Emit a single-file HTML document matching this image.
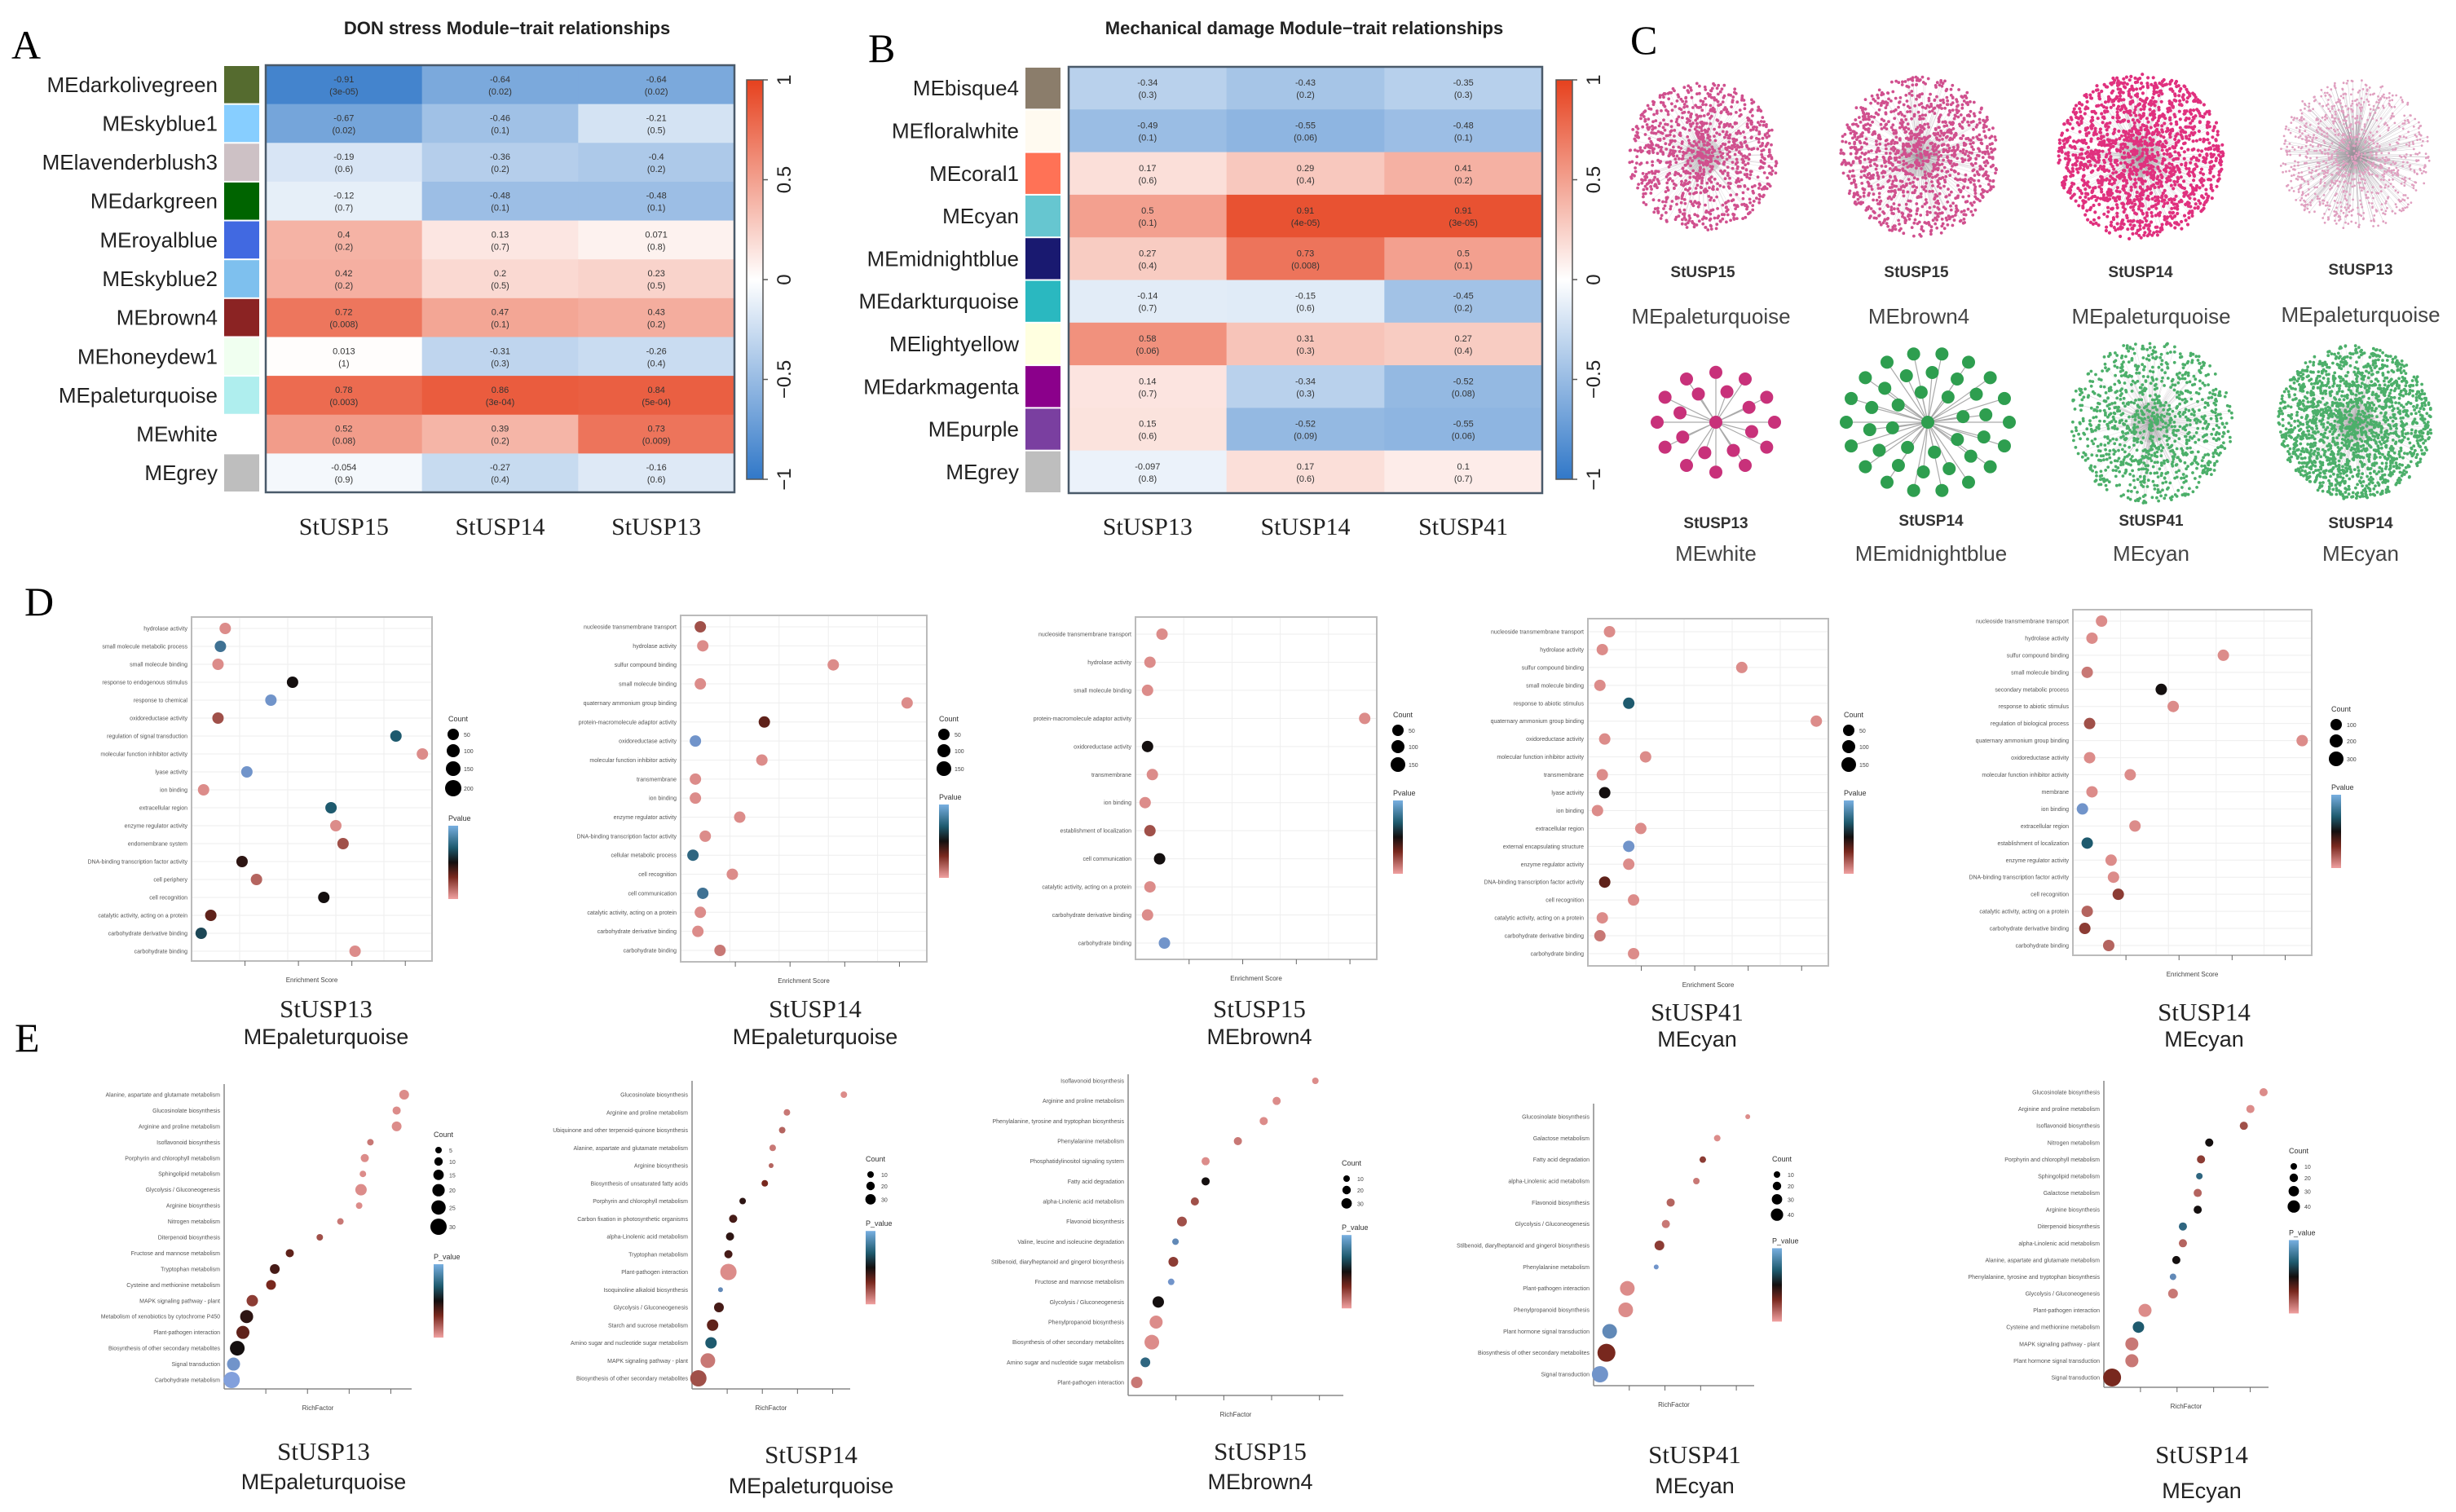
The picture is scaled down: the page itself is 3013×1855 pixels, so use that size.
<!DOCTYPE html>
<html><head><meta charset="utf-8"><style>
html,body{margin:0;padding:0;background:#fff;}
svg{display:block;font-family:"Liberation Sans",sans-serif;}
.serif{font-family:"Liberation Serif",serif;}
</style></head><body>
<svg id="fig" xmlns="http://www.w3.org/2000/svg" width="3013" height="1855" viewBox="0 0 3013 1855">
<defs>
<linearGradient id="hmgrad" x1="0" y1="1" x2="0" y2="0">
<stop offset="0" stop-color="rgb(49,120,200)"/><stop offset="0.5" stop-color="#ffffff"/><stop offset="1" stop-color="rgb(230,65,30)"/>
</linearGradient>
<linearGradient id="pgrad" x1="0" y1="0" x2="0" y2="1">
<stop offset="0" stop-color="rgb(120,175,225)"/><stop offset="0.3" stop-color="rgb(30,90,110)"/><stop offset="0.5" stop-color="rgb(20,15,15)"/><stop offset="0.7" stop-color="rgb(120,40,30)"/><stop offset="1" stop-color="rgb(240,160,160)"/>
</linearGradient>
</defs>
<text class="serif" x="14" y="72" font-size="50">A</text>
<text class="serif" x="1065" y="76" font-size="50">B</text>
<text class="serif" x="2000" y="66" font-size="50">C</text>
<text class="serif" x="30" y="755" font-size="50">D</text>
<text class="serif" x="18" y="1290" font-size="50">E</text>
<g id="root"></g>
</svg>
<script>
// ---------- Panel A data ----------
const aRows=["MEdarkolivegreen","MEskyblue1","MElavenderblush3","MEdarkgreen","MEroyalblue","MEskyblue2","MEbrown4","MEhoneydew1","MEpaleturquoise","MEwhite","MEgrey"];
const aStrip=["#556B2F","#87CEFF","#CDC1C5","#006400","#4169E1","#7EC0EE","#8B2323","#F0FFF0","#AFEEEE","#FFFFFF","#BEBEBE"];
const aCols=["StUSP15","StUSP14","StUSP13"];
const aVals=[[-0.91,-0.64,-0.64],[-0.67,-0.46,-0.21],[-0.19,-0.36,-0.4],[-0.12,-0.48,-0.48],[0.4,0.13,0.071],[0.42,0.2,0.23],[0.72,0.47,0.43],[0.013,-0.31,-0.26],[0.78,0.86,0.84],[0.52,0.39,0.73],[-0.054,-0.27,-0.16]];
const aP=[["3e-05","0.02","0.02"],["0.02","0.1","0.5"],["0.6","0.2","0.2"],["0.7","0.1","0.1"],["0.2","0.7","0.8"],["0.2","0.5","0.5"],["0.008","0.1","0.2"],["1","0.3","0.4"],["0.003","3e-04","5e-04"],["0.08","0.2","0.009"],["0.9","0.4","0.6"]];
// ---------- Panel B data ----------
const bRows=["MEbisque4","MEfloralwhite","MEcoral1","MEcyan","MEmidnightblue","MEdarkturquoise","MElightyellow","MEdarkmagenta","MEpurple","MEgrey"];
const bStrip=["#8B7D6B","#FFFAF0","#FF7256","#66C6D0","#191970","#2AB8C0","#FFFFE0","#8B008B","#7A3FA0","#BEBEBE"];
const bCols=["StUSP13","StUSP14","StUSP41"];
const bVals=[[-0.34,-0.43,-0.35],[-0.49,-0.55,-0.48],[0.17,0.29,0.41],[0.5,0.91,0.91],[0.27,0.73,0.5],[-0.14,-0.15,-0.45],[0.58,0.31,0.27],[0.14,-0.34,-0.52],[0.15,-0.52,-0.55],[-0.097,0.17,0.1]];
const bP=[["0.3","0.2","0.3"],["0.1","0.06","0.1"],["0.6","0.4","0.2"],["0.1","4e-05","3e-05"],["0.4","0.008","0.1"],["0.7","0.6","0.2"],["0.06","0.3","0.4"],["0.7","0.3","0.08"],["0.6","0.09","0.06"],["0.8","0.6","0.7"]];
const cbTicks=[1,0.5,0,-0.5,-1];
const cbTickLabels=["1","0.5","0","\u22120.5","\u22121"];

// ---------- Panel D data ----------
const d1Terms=["hydrolase activity","small molecule metabolic process","small molecule binding","response to endogenous stimulus","response to chemical","oxidoreductase activity","regulation of signal transduction","molecular function inhibitor activity","lyase activity","ion binding","extracellular region","enzyme regulator activity","endomembrane system","DNA-binding transcription factor activity","cell periphery","cell recognition","catalytic activity, acting on a protein","carbohydrate derivative binding","carbohydrate binding"];
const d1X=[0.14,0.12,0.11,0.42,0.33,0.11,0.85,0.96,0.23,0.05,0.58,0.60,0.63,0.21,0.27,0.55,0.08,0.04,0.68];
const d1P=[0.05,0.8,0.05,0.5,0.95,0.2,0.7,0.05,0.95,0.05,0.7,0.05,0.2,0.45,0.15,0.5,0.35,0.65,0.05];
const d2Terms=["nucleoside transmembrane transport","hydrolase activity","sulfur compound binding","small molecule binding","quaternary ammonium group binding","protein-macromolecule adaptor activity","oxidoreductase activity","molecular function inhibitor activity","transmembrane","ion binding","enzyme regulator activity","DNA-binding transcription factor activity","cellular metabolic process","cell recognition","cell communication","catalytic activity, acting on a protein","carbohydrate derivative binding","carbohydrate binding"];
const d2X=[0.08,0.09,0.62,0.08,0.92,0.34,0.06,0.33,0.06,0.06,0.24,0.10,0.05,0.21,0.09,0.08,0.07,0.16];
const d2P=[0.2,0.05,0.05,0.05,0.05,0.35,0.95,0.05,0.05,0.05,0.05,0.05,0.75,0.05,0.8,0.05,0.05,0.1];
const d3Terms=["nucleoside transmembrane transport","hydrolase activity","small molecule binding","protein-macromolecule adaptor activity","oxidoreductase activity","transmembrane","ion binding","establishment of localization","cell communication","catalytic activity, acting on a protein","carbohydrate derivative binding","carbohydrate binding"];
const d3X=[0.11,0.06,0.05,0.95,0.05,0.07,0.04,0.06,0.10,0.06,0.05,0.12];
const d3P=[0.05,0.05,0.05,0.05,0.5,0.05,0.05,0.2,0.5,0.05,0.05,0.95];
const d4Terms=["nucleoside transmembrane transport","hydrolase activity","sulfur compound binding","small molecule binding","response to abiotic stimulus","quaternary ammonium group binding","oxidoreductase activity","molecular function inhibitor activity","transmembrane","lyase activity","ion binding","extracellular region","external encapsulating structure","enzyme regulator activity","DNA-binding transcription factor activity","cell recognition","catalytic activity, acting on a protein","carbohydrate derivative binding","carbohydrate binding"];
const d4X=[0.09,0.06,0.64,0.05,0.17,0.95,0.07,0.24,0.06,0.07,0.04,0.22,0.17,0.17,0.07,0.19,0.06,0.05,0.19];
const d4P=[0.05,0.05,0.05,0.05,0.7,0.05,0.05,0.05,0.05,0.5,0.05,0.05,0.95,0.05,0.35,0.05,0.05,0.1,0.05];
const d5Terms=["nucleoside transmembrane transport","hydrolase activity","sulfur compound binding","small molecule binding","secondary metabolic process","response to abiotic stimulus","regulation of biological process","quaternary ammonium group binding","oxidoreductase activity","molecular function inhibitor activity","membrane","ion binding","extracellular region","establishment of localization","enzyme regulator activity","DNA-binding transcription factor activity","cell recognition","catalytic activity, acting on a protein","carbohydrate derivative binding","carbohydrate binding"];
const d5X=[0.12,0.08,0.63,0.06,0.37,0.42,0.07,0.96,0.07,0.24,0.08,0.04,0.26,0.06,0.16,0.17,0.19,0.06,0.05,0.15];
const d5P=[0.05,0.05,0.05,0.1,0.5,0.05,0.2,0.05,0.05,0.05,0.05,0.95,0.05,0.7,0.05,0.05,0.25,0.15,0.25,0.15];

// ---------- Panel E data ----------
const e1Terms=["Alanine, aspartate and glutamate metabolism","Glucosinolate biosynthesis","Arginine and proline metabolism","Isoflavonoid biosynthesis","Porphyrin and chlorophyll metabolism","Sphingolipid metabolism","Glycolysis / Gluconeogenesis","Arginine biosynthesis","Nitrogen metabolism","Diterpenoid biosynthesis","Fructose and mannose metabolism","Tryptophan metabolism","Cysteine and methionine metabolism","MAPK signaling pathway - plant","Metabolism of xenobiotics by cytochrome P450","Plant-pathogen interaction","Biosynthesis of other secondary metabolites","Signal transduction","Carbohydrate metabolism"];
const e1X=[0.96,0.92,0.92,0.78,0.75,0.74,0.73,0.72,0.62,0.51,0.35,0.27,0.25,0.15,0.12,0.10,0.07,0.05,0.04];
const e1P=[0.05,0.05,0.05,0.1,0.05,0.05,0.05,0.05,0.1,0.2,0.35,0.4,0.3,0.25,0.45,0.35,0.5,0.95,1];
const e1R=[6,5,6,4,5,4,7,4,4,4,5,6,6,7,8,8,9,8,10];
const e2Terms=["Glucosinolate biosynthesis","Arginine and proline metabolism","Ubiquinone and other terpenoid-quinone biosynthesis","Alanine, aspartate and glutamate metabolism","Arginine biosynthesis","Biosynthesis of unsaturated fatty acids","Porphyrin and chlorophyll metabolism","Carbon fixation in photosynthetic organisms","alpha-Linolenic acid metabolism","Tryptophan metabolism","Plant-pathogen interaction","Isoquinoline alkaloid biosynthesis","Glycolysis / Gluconeogenesis","Starch and sucrose metabolism","Amino sugar and nucleotide sugar metabolism","MAPK signaling pathway - plant","Biosynthesis of other secondary metabolites"];
const e2X=[0.96,0.60,0.57,0.51,0.50,0.46,0.32,0.26,0.24,0.23,0.23,0.18,0.17,0.13,0.12,0.10,0.04];
const e2P=[0.05,0.1,0.15,0.1,0.15,0.3,0.45,0.4,0.45,0.4,0.05,0.9,0.4,0.35,0.7,0.1,0.2];
const e2R=[4,4,4,4,3,4,4,5,5,5,10,3,6,7,7,9,10];
const e3Terms=["Isoflavonoid biosynthesis","Arginine and proline metabolism","Phenylalanine, tyrosine and tryptophan biosynthesis","Phenylalanine metabolism","Phosphatidylinositol signaling system","Fatty acid degradation","alpha-Linolenic acid metabolism","Flavonoid biosynthesis","Valine, leucine and isoleucine degradation","Stilbenoid, diarylheptanoid and gingerol biosynthesis","Fructose and mannose metabolism","Glycolysis / Gluconeogenesis","Phenylpropanoid biosynthesis","Biosynthesis of other secondary metabolites","Amino sugar and nucleotide sugar metabolism","Plant-pathogen interaction"];
const e3X=[0.87,0.69,0.63,0.51,0.36,0.36,0.31,0.25,0.22,0.21,0.20,0.14,0.13,0.11,0.08,0.04];
const e3P=[0.05,0.05,0.05,0.1,0.05,0.5,0.2,0.2,0.9,0.25,0.95,0.5,0.05,0.05,0.75,0.1];
const e3R=[4,5,5,5,5,5,5,6,4,6,4,7,8,9,6,7];
const e4Terms=["Glucosinolate biosynthesis","Galactose metabolism","Fatty acid degradation","alpha-Linolenic acid metabolism","Flavonoid biosynthesis","Glycolysis / Gluconeogenesis","Stilbenoid, diarylheptanoid and gingerol biosynthesis","Phenylalanine metabolism","Plant-pathogen interaction","Phenylpropanoid biosynthesis","Plant hormone signal transduction","Biosynthesis of other secondary metabolites","Signal transduction"];
const e4X=[0.96,0.77,0.68,0.64,0.48,0.45,0.41,0.39,0.21,0.20,0.10,0.08,0.04];
const e4P=[0.05,0.05,0.25,0.1,0.15,0.1,0.25,0.95,0.05,0.05,0.9,0.3,0.95];
const e4R=[3,4,4,4,5,5,6,3,9,9,9,11,10];
const e5Terms=["Glucosinolate biosynthesis","Arginine and proline metabolism","Isoflavonoid biosynthesis","Nitrogen metabolism","Porphyrin and chlorophyll metabolism","Sphingolipid metabolism","Galactose metabolism","Arginine biosynthesis","Diterpenoid biosynthesis","alpha-Linolenic acid metabolism","Alanine, aspartate and glutamate metabolism","Phenylalanine, tyrosine and tryptophan biosynthesis","Glycolysis / Gluconeogenesis","Plant-pathogen interaction","Cysteine and methionine metabolism","MAPK signaling pathway - plant","Plant hormone signal transduction","Signal transduction"];
const e5X=[0.97,0.89,0.85,0.64,0.59,0.58,0.57,0.57,0.48,0.48,0.44,0.42,0.42,0.25,0.21,0.17,0.17,0.05];
const e5P=[0.05,0.05,0.2,0.5,0.25,0.75,0.15,0.5,0.75,0.15,0.5,0.9,0.1,0.05,0.7,0.1,0.1,0.3];
const e5R=[5,5,5,5,5,4,5,5,5,5,5,4,6,8,7,8,8,11];

const NS="http://www.w3.org/2000/svg";
const root=document.getElementById('root');
function mk(tag,attrs,parent,txt){const e=document.createElementNS(NS,tag);for(const k in attrs)e.setAttribute(k,attrs[k]);if(txt!==undefined)e.textContent=txt;(parent||root).appendChild(e);return e;}
function lerp(a,b,t){return a+(b-a)*t;}
function hmColor(v){const w=[255,255,255];const c=v<0?[49,120,200]:[230,65,30];const t=Math.min(1,Math.abs(v));return `rgb(${Math.round(lerp(w[0],c[0],t))},${Math.round(lerp(w[1],c[1],t))},${Math.round(lerp(w[2],c[2],t))})`;}
function pColor(p){const st=[[0,[240,160,160]],[0.3,[120,40,30]],[0.5,[20,15,15]],[0.7,[30,90,110]],[1,[130,160,220]]];for(let i=1;i<st.length;i++){if(p<=st[i][0]){const t=(p-st[i-1][0])/(st[i][0]-st[i-1][0]);const a=st[i-1][1],b=st[i][1];return `rgb(${Math.round(lerp(a[0],b[0],t))},${Math.round(lerp(a[1],b[1],t))},${Math.round(lerp(a[2],b[2],t))})`;}}return 'rgb(130,160,220)';}

function heatmap(cfg){
  const g=mk('g',{});
  
  
  const t=mk('text',{x:cfg.titleX,y:cfg.titleY,'font-size':22,'font-weight':'bold','text-anchor':'middle',fill:'#222'},g,cfg.title);
  
  
  const nr=cfg.rows.length,nc=cfg.cols.length;
  const ch=(cfg.y1-cfg.y0)/nr,cw=(cfg.x1-cfg.x0)/nc;
  const yS=i=>cfg.y0+i*ch, xS=j=>cfg.x0+j*cw;
  cfg.rows.forEach((r,i)=>{
    const s=mk('rect',{x:cfg.sx,y:yS(i)+1,width:cfg.sw,height:ch-2,fill:cfg.strip[i]},g);
    
    
    const l=mk('text',{x:cfg.sx-8,y:yS(i)+ch/2+9,'font-size':26,'text-anchor':'end',fill:'#222'},g,r);
    
    
    cfg.cols.forEach((c,j)=>{
      const v=cfg.vals[i][j];
      const cell=mk('rect',{x:xS(j),y:yS(i),width:cw+0.5,height:ch+0.5,fill:hmColor(v)},g);
      
      
      const tv=mk('text',{x:xS(j)+cw/2,y:yS(i)+ch/2-3,'font-size':11,'text-anchor':'middle',fill:'#333'},g,String(v));
      
      
      const tp=mk('text',{x:xS(j)+cw/2,y:yS(i)+ch/2+12,'font-size':11,'text-anchor':'middle',fill:'#333'},g,'('+cfg.p[i][j]+')');
      
      
    });
  });
  const bd=mk('rect',{x:cfg.x0,y:cfg.y0,width:cfg.x1-cfg.x0,height:cfg.y1-cfg.y0,fill:'none',stroke:'#4a5a6a','stroke-width':2.5},g);
  
  
  cfg.cols.forEach((c,j)=>{
    const l=mk('text',{x:xS(j)+cw/2,y:cfg.colY,'font-size':30,'text-anchor':'middle',fill:'#222',class:'serif'},g,c);
    
    
  });
  const cb=mk('rect',{x:cfg.cbx,y:98,width:cfg.cbw,height:490,fill:'url(#hmgrad)',stroke:'#555','stroke-width':1.5},g);
  
  
  const cy=v=>98+(1-v)/2*490;
  cbTicks.forEach((v,k)=>{
    mk('line',{x1:cfg.cbx+cfg.cbw,x2:cfg.cbx+cfg.cbw+6,y1:cy(v),y2:cy(v),stroke:'#555','stroke-width':1.5},g);
    const tl=mk('text',{x:cfg.cbx+cfg.cbw+34,y:cy(v),'font-size':24,'text-anchor':'middle',fill:'#222',transform:`rotate(-90 ${cfg.cbx+cfg.cbw+34} ${cy(v)})`},g,cbTickLabels[k]);
    
    
  });
}
heatmap({name:'heatmap-don-stress',title:'DON stress Module\u2212trait relationships',titleX:622,titleY:42,rows:aRows,strip:aStrip,cols:aCols,vals:aVals,p:aP,x0:326,x1:901,y0:80,y1:604,sx:275,sw:43,colY:656,cbx:916,cbw:20});
heatmap({name:'heatmap-mechanical-damage',title:'Mechanical damage Module\u2212trait relationships',titleX:1600,titleY:42,rows:bRows,strip:bStrip,cols:bCols,vals:bVals,p:bP,x0:1311,x1:1892,y0:82,y1:605,sx:1258,sw:43,colY:656,cbx:1909,cbw:20});

// ---------- Panel C networks (decorative) ----------
let seed=12345;function rnd(){seed|=0;seed=seed+0x6D2B79F5|0;let t=Math.imul(seed^seed>>>15,1|seed);t=t+Math.imul(t^t>>>7,61|t)^t;return((t^t>>>14)>>>0)/4294967296;}
function cloud(cx,cy,R,n,col,dotR,lineOp,lineEvery,name){
  const g=mk('g',{});
  
  
  let d='';const pts=[];
  for(let i=0;i<n;i++){const a=rnd()*Math.PI*2;const r=R*Math.pow(rnd(),0.6);pts.push([cx+r*Math.cos(a),cy+r*Math.sin(a)]);}
  pts.forEach((p,i)=>{if(i%lineEvery==0)d+=`M${cx} ${cy}L${p[0].toFixed(1)} ${p[1].toFixed(1)}`;});
  mk('path',{d:d,stroke:'#9a8f98','stroke-width':0.5,opacity:lineOp,fill:'none'},g);
  mk('circle',{cx:cx,cy:cy,r:R*0.25,fill:'#999',opacity:0.3},g);
  let dd='';pts.forEach(p=>{dd+=`M${(p[0]-dotR).toFixed(1)} ${p[1].toFixed(1)}a${dotR} ${dotR} 0 1 0 ${2*dotR} 0a${dotR} ${dotR} 0 1 0 ${-2*dotR} 0`;});
  mk('path',{d:dd,fill:col},g);
}
function star(cx,cy,rings,col,nodeR,name){
  const g=mk('g',{});
  
  
  const nodes=[];
  rings.forEach((rg,k)=>{for(let i=0;i<rg[1];i++){const a=(i/rg[1])*Math.PI*2+k*0.3;nodes.push([cx+rg[0]*Math.cos(a),cy+rg[0]*0.85*Math.sin(a)]);}});
  nodes.forEach(p=>mk('line',{x1:cx,y1:cy,x2:p[0],y2:p[1],stroke:'#aaa','stroke-width':1.2},g));
  nodes.forEach(p=>mk('circle',{cx:p[0],cy:p[1],r:nodeR,fill:col},g));
  mk('circle',{cx:cx,cy:cy,r:nodeR,fill:col},g);
}
cloud(2089,192,92,1000,'#d0508e',1.9,0.3,4,'network-stusp15-paleturquoise');
cloud(2355,192,98,1200,'#d0508e',1.9,0.3,4,'network-stusp15-brown4');
cloud(2626,192,102,1500,'#e0307e',2.1,0.3,4,'network-stusp14-paleturquoise');
cloud(2889,190,92,900,'#e0a0c0',1.4,0.45,2,'network-stusp13-paleturquoise');
star(2105,518,[[72,12],[46,8]],'#c8317a',8,'network-stusp13-white');
star(2365,518,[[100,18],[72,14],[44,8]],'#2e9e4f',8,'network-stusp14-midnightblue');
cloud(2639,518,100,1000,'#4caf6a',1.9,0.3,4,'network-stusp41-cyan');
cloud(2889,518,95,1700,'#4caf6a',1.9,0.25,5,'network-stusp14-cyan');
const cLabels=[[2089,2099,333,388,'StUSP15','MEpaleturquoise'],[2351,2354,333,388,'StUSP15','MEbrown4'],[2626,2639,333,388,'StUSP14','MEpaleturquoise'],[2896,2896,330,386,'StUSP13','MEpaleturquoise'],[2105,2105,641,679,'StUSP13','MEwhite'],[2369,2369,638,679,'StUSP14','MEmidnightblue'],[2639,2639,638,679,'StUSP41','MEcyan'],[2896,2896,641,679,'StUSP14','MEcyan']];
cLabels.forEach(c=>{
  const a=mk('text',{x:c[0],y:c[2]+7,'font-size':19,'font-weight':'bold','text-anchor':'middle',fill:'#333'},root,c[4]);
  
  
  const b=mk('text',{x:c[1],y:c[3]+9,'font-size':26,'text-anchor':'middle',fill:'#444'},root,c[5]);
  
  
});

// ---------- Dot plots ----------
function legend(g,x,y,counts,pLabel,r0,dr){
  const ct=mk('text',{x:x-6,y:y,'font-size':9,fill:'#333'},g,'Count');
  
  
  let yy=y+16;
  counts.forEach((c,i)=>{const r=r0+i*dr;
    const cc=mk('circle',{cx:x,cy:yy,r:r,fill:'#000'},g);
    
    
    mk('text',{x:x+13,y:yy+3,'font-size':7,fill:'#444'},g,c);yy+=2*r+6;});
  const pt=mk('text',{x:x-6,y:yy+14,'font-size':9,fill:'#333'},g,pLabel);
  
  
  const pb=mk('rect',{x:x-6,y:yy+20,width:12,height:90,fill:'url(#pgrad)'},g);
  
  
}
function dotplot(cfg){
  const g=mk('g',{});
  
  
  const n=cfg.terms.length;
  const yS=i=>cfg.r0+(cfg.r1-cfg.r0)*i/(n-1);
  const xS=v=>cfg.x0+v*(cfg.x1-cfg.x0);
  if(cfg.box){
    for(let k=0;k<=5;k++){mk('line',{x1:xS(k/5),x2:xS(k/5),y1:cfg.y0,y2:cfg.y1,stroke:'#eee','stroke-width':1},g);}
    cfg.terms.forEach((t,i)=>mk('line',{x1:cfg.x0,x2:cfg.x1,y1:yS(i),y2:yS(i),stroke:'#eee','stroke-width':1},g));
    const b=mk('rect',{x:cfg.x0,y:cfg.y0,width:cfg.x1-cfg.x0,height:cfg.y1-cfg.y0,fill:'none',stroke:'#bbb','stroke-width':2},g);
    
    
  } else {
    mk('line',{x1:cfg.x0,x2:cfg.x0,y1:cfg.y0,y2:cfg.y1,stroke:'#888','stroke-width':1.5},g);
    mk('line',{x1:cfg.x0,x2:cfg.x1,y1:cfg.y1,y2:cfg.y1,stroke:'#888','stroke-width':1.5},g);
  }
  for(let k=1;k<=4;k++){mk('line',{x1:xS(k/4.5),x2:xS(k/4.5),y1:cfg.y1,y2:cfg.y1+6,stroke:'#666','stroke-width':1},g);}
  const xt=mk('text',{x:(cfg.x0+cfg.x1)/2,y:cfg.y1+26,'font-size':8,'text-anchor':'middle',fill:'#444'},g,cfg.xtitle);
  
  
  cfg.terms.forEach((t,i)=>{
    const l=mk('text',{x:cfg.x0-5,y:yS(i)+2.5,'font-size':7,'text-anchor':'end',fill:'#555'},g,t);
    
    
    const r=cfg.rad?cfg.rad[i]:7;
    const c=mk('circle',{cx:xS(cfg.x[i]),cy:yS(i),r:r,fill:pColor(cfg.p[i])},g);
    
    
  });
  legend(g,cfg.lx,cfg.ly,cfg.counts,cfg.plabel,cfg.box?7:4,cfg.box?1:1.2);
  const t1=mk('text',{x:cfg.tx,y:cfg.ty,'font-size':31,'text-anchor':'middle',fill:'#222',class:'serif'},g,cfg.gene);
  
  
  const t2=mk('text',{x:cfg.tx,y:cfg.ty2,'font-size':27,'text-anchor':'middle',fill:'#222'},g,cfg.module);
  
  
}
const dC=['50','100','150','200'];
dotplot({name:'go-dotplot-stusp13',box:true,terms:d1Terms,x:d1X,p:d1P,x0:235,x1:530,y0:757,y1:1179,r0:771,r1:1167,lx:556,ly:885,counts:dC,plabel:'Pvalue',xtitle:'Enrichment Score',gene:'StUSP13',module:'MEpaleturquoise',tx:400,ty:1248,ty2:1281});
dotplot({name:'go-dotplot-stusp14-paleturquoise',box:true,terms:d2Terms,x:d2X,p:d2P,x0:835,x1:1137,y0:755,y1:1180,r0:769,r1:1166,lx:1158,ly:885,counts:['50','100','150'],plabel:'Pvalue',xtitle:'Enrichment Score',gene:'StUSP14',module:'MEpaleturquoise',tx:1000,ty:1248,ty2:1281});
dotplot({name:'go-dotplot-stusp15-brown4',box:true,terms:d3Terms,x:d3X,p:d3P,x0:1393,x1:1689,y0:757,y1:1177,r0:778,r1:1157,lx:1715,ly:880,counts:['50','100','150'],plabel:'Pvalue',xtitle:'Enrichment Score',gene:'StUSP15',module:'MEbrown4',tx:1545,ty:1248,ty2:1281});
dotplot({name:'go-dotplot-stusp41-cyan',box:true,terms:d4Terms,x:d4X,p:d4P,x0:1948,x1:2243,y0:759,y1:1185,r0:775,r1:1170,lx:2268,ly:880,counts:['50','100','150'],plabel:'Pvalue',xtitle:'Enrichment Score',gene:'StUSP41',module:'MEcyan',tx:2082,ty:1252,ty2:1284});
dotplot({name:'go-dotplot-stusp14-cyan',box:true,terms:d5Terms,x:d5X,p:d5P,x0:2543,x1:2836,y0:748,y1:1172,r0:762,r1:1160,lx:2866,ly:873,counts:['100','200','300'],plabel:'Pvalue',xtitle:'Enrichment Score',gene:'StUSP14',module:'MEcyan',tx:2704,ty:1252,ty2:1284});

dotplot({name:'kegg-dotplot-stusp13',box:false,terms:e1Terms,x:e1X,p:e1P,rad:e1R,x0:275,x1:505,y0:1330,y1:1704,r0:1343,r1:1693,lx:538,ly:1395,counts:['5','10','15','20','25','30'],plabel:'P_value',xtitle:'RichFactor',gene:'StUSP13',module:'MEpaleturquoise',tx:397,ty:1791,ty2:1827});
dotplot({name:'kegg-dotplot-stusp14-paleturquoise',box:false,terms:e2Terms,x:e2X,p:e2P,rad:e2R,x0:849,x1:1043,y0:1326,y1:1704,r0:1343,r1:1691,lx:1068,ly:1425,counts:['10','20','30'],plabel:'P_value',xtitle:'RichFactor',gene:'StUSP14',module:'MEpaleturquoise',tx:995,ty:1795,ty2:1832});
dotplot({name:'kegg-dotplot-stusp15-brown4',box:false,terms:e3Terms,x:e3X,p:e3P,rad:e3R,x0:1384,x1:1648,y0:1318,y1:1712,r0:1326,r1:1696,lx:1652,ly:1430,counts:['10','20','30'],plabel:'P_value',xtitle:'RichFactor',gene:'StUSP15',module:'MEbrown4',tx:1546,ty:1791,ty2:1827});
dotplot({name:'kegg-dotplot-stusp41-cyan',box:false,terms:e4Terms,x:e4X,p:e4P,rad:e4R,x0:1955,x1:2152,y0:1354,y1:1700,r0:1370,r1:1686,lx:2180,ly:1425,counts:['10','20','30','40'],plabel:'P_value',xtitle:'RichFactor',gene:'StUSP41',module:'MEcyan',tx:2079,ty:1795,ty2:1832});
dotplot({name:'kegg-dotplot-stusp14-cyan',box:false,terms:e5Terms,x:e5X,p:e5P,rad:e5R,x0:2581,x1:2783,y0:1326,y1:1702,r0:1340,r1:1690,lx:2814,ly:1415,counts:['10','20','30','40'],plabel:'P_value',xtitle:'RichFactor',gene:'StUSP14',module:'MEcyan',tx:2701,ty:1795,ty2:1838});
</script>
</body></html>
